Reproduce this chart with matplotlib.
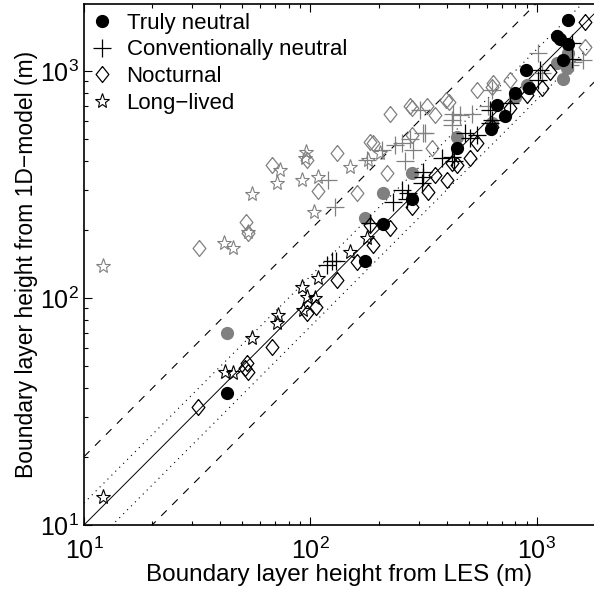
import matplotlib
matplotlib.use('Agg')
import matplotlib.pyplot as plt
import numpy as np

plt.rcParams['font.family'] = ['Liberation Sans', 'DejaVu Sans']

# LES height (x) vs 1D-model height (y), black = one model run, gray = the other
truly_black_x = [43, 174, 209, 281, 443, 627, 666, 722, 800, 922, 893, 1303, 1371, 1225, 1260, 1371]
truly_black_y = [38, 146, 212, 273, 458, 555, 708, 634, 800, 841, 1009, 1117, 1316, 1425, 1380, 1680]
truly_gray_x = [43, 174, 209, 281, 443, 632, 800, 903, 1225, 1355, 1303, 1371]
truly_gray_y = [70, 225, 290, 355, 512, 590, 768, 867, 1084, 1030, 923, 1200]

conv_black_x = [118, 124, 129, 183, 231, 253, 269, 267, 314, 314, 310, 381, 421, 432, 481, 506,
                543, 620, 620, 632, 760, 1031, 1010, 1429, 1429]
conv_black_y = [140, 146, 146, 214, 265, 300, 290, 273, 341, 358, 322, 414, 418, 400, 533, 507,
                523, 593, 673, 609, 723, 1009, 910, 1328, 1130]
conv_gray_x = [119, 128, 178, 207, 236, 261, 254, 284, 314, 304, 320, 421, 421, 426, 457, 516,
               608, 632, 1010, 1052, 1442, 1596, 1400, 275]
conv_gray_y = [331, 252, 405, 449, 472, 400, 483, 449, 532, 673, 532, 609, 580, 650, 639, 650,
               700, 824, 1200, 980, 1096, 1117, 1066, 500]

noct_black_x = [31.8, 52.5, 53, 51.5, 67.6, 96.6, 106, 131, 160, 189, 183, 224, 281, 330, 355, 401,
                421, 443, 506, 543, 632, 760, 903, 1052, 1140, 1630]
noct_black_y = [33, 51.8, 47, 49, 60.8, 85.9, 91, 120, 144, 171, 210, 203, 252, 293, 348, 331,
                392, 385, 414, 480, 566, 687, 784, 841, 991, 1644]
noct_gray_x = [32.2, 51.9, 53, 67.6, 96.6, 108, 131, 160, 218, 183, 189, 224, 281, 327, 281, 355,
               395, 410, 345, 543, 632, 637, 760, 1630, 275]
noct_gray_y = [166, 216, 193, 385, 405, 296, 435, 290, 355, 486, 480, 650, 687, 700, 522, 639,
               745, 730, 458, 824, 850, 883, 910, 1276, 700]

long_black_x = [12.1, 42, 45.4, 55.2, 72, 71, 92.7, 91.6, 96.6, 105, 108, 149, 178]
long_black_y = [13.3, 47.2, 46.7, 66.7, 84, 78, 88.5, 112, 101, 100, 122, 160, 184]
long_gray_x = [12.1, 41.5, 45.4, 53, 55.2, 71, 73.3, 91.6, 95.3, 95, 108, 104, 149, 180, 203]
long_gray_y = [138, 175, 167, 195, 287, 321, 366, 331, 440, 414, 341, 239, 378, 405, 435]

ref_x = [10, 3000]
labels = ['Truly neutral', 'Conventionally neutral', 'Nocturnal', 'Long\u2212lived']

gray = '#808080'
diamond = [(0, 1), (0.8, 0), (0, -1), (-0.8, 0), (0, 1)]

fig = plt.figure(figsize=(5.94, 5.92), dpi=100)
ax = fig.add_axes([0.1414, 0.1132, 0.8586, 0.880])

rx = np.array(ref_x, dtype=float)
ax.plot(rx, rx, '-', color='k', lw=0.7)
ax.plot(rx, 1.25 * rx, color='k', lw=0.8, ls=(0, (1, 4)))
ax.plot(rx, 0.75 * rx, color='k', lw=0.8, ls=(0, (1, 4)))
ax.plot(rx, 2 * rx, color='k', lw=0.8, ls=(0, (7, 7)))
ax.plot(rx, 0.5 * rx, color='k', lw=0.8, ls=(0, (7, 7)))

# gray series first, black on top
ax.plot(truly_gray_x, truly_gray_y, 'o', ls='none', color=gray, ms=8.5, mec=gray)
ax.plot(conv_gray_x, conv_gray_y, '+', ls='none', color=gray, ms=13, mew=0.9)
ax.plot(noct_gray_x, noct_gray_y, marker=diamond, ls='none', mfc='none', mec=gray, ms=11.5, mew=0.9)
ax.plot(long_gray_x, long_gray_y, '*', ls='none', mfc='none', mec=gray, ms=11, mew=0.8)

ax.plot(truly_black_x, truly_black_y, 'o', ls='none', color='k', ms=8.5, label=labels[0])
ax.plot(conv_black_x, conv_black_y, '+', ls='none', color='k', ms=13, mew=0.9, label=labels[1])
ax.plot(noct_black_x, noct_black_y, marker=diamond, ls='none', mfc='none', mec='k', ms=11.5, mew=0.9,
        label=labels[2])
ax.plot(long_black_x, long_black_y, '*', ls='none', mfc='none', mec='k', ms=11, mew=0.8, label=labels[3])

ax.set_xscale('log')
ax.set_yscale('log')
ax.set_xlim(10, 1786)
ax.set_ylim(10, 1975)

ax.spines['right'].set_visible(False)
for s in ['left', 'bottom', 'top']:
    ax.spines[s].set_linewidth(1.2)
ax.tick_params(which='both', direction='in', top=True, right=False, labelsize=18, width=0.8)
ax.tick_params(which='major', length=6)
ax.tick_params(which='minor', length=3)
ax.tick_params(axis='x', which='major', pad=9)
ax.tick_params(axis='y', which='major', pad=4)

ax.set_xlabel('Boundary layer height from LES (m)', fontsize=17.5, labelpad=0)
ax.set_ylabel('Boundary layer height from 1D\u2212model (m)', fontsize=16.5, labelpad=1)

ax.legend(loc='upper left', frameon=False, fontsize=16, handletextpad=0.5, borderaxespad=0.0,
          labelspacing=0.25, handlelength=1.2, bbox_to_anchor=(-0.008, 1.0))

plt.savefig('out.png', dpi=100)
plt.close()
